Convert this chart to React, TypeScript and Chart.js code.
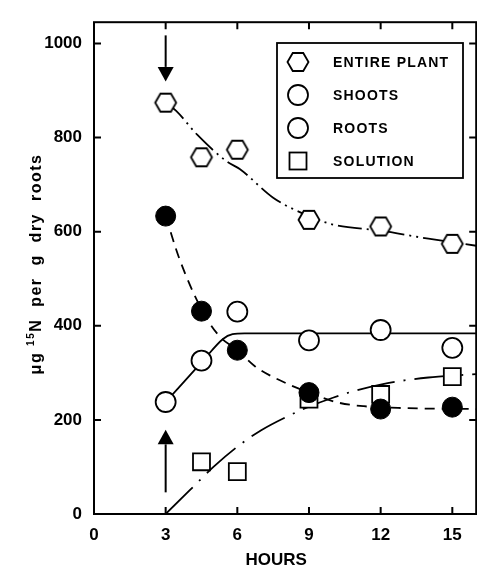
import React, { useEffect, useRef } from "react";
import { Chart, registerables } from "chart.js";

Chart.register(...registerables);

// ---- data ----
const xTickValues = [0, 3, 6, 9, 12, 15];
const yTickValues = [0, 200, 400, 600, 800, 1000];

const hours = [3, 4.5, 6, 9, 12, 15];
const entirePlant = [874, 758, 774, 625, 611, 574];
const shoots = [238, 326, 430, 369, 391, 353];
const roots = [633, 431, 348, 258, 223, 227];
const solutionHours = [4.5, 6, 9, 12, 15];
const solution = [111, 90, 244, 254, 292];

// fitted curves
const entireFitX = [3, 3.43, 4.32, 5.56, 6.1, 7.5, 8.46, 10, 12, 14, 16];
const entireFitY = [874, 857, 806, 749, 733, 672, 645, 615, 602, 585, 570];
const shootsFitX = [3, 4.5, 5.4, 5.8, 6.3, 16];
const shootsFitY = [238, 322, 372, 382, 384, 384];
const rootsFitX = [3, 3.57, 4.5, 5.23, 6, 6.76, 8, 9, 10.2, 11.3, 13, 16];
const rootsFitY = [633, 543, 435, 379, 348, 313, 279, 258, 237, 229, 225, 223];
const solutionFitX = [3, 4, 5, 6, 7, 8, 9, 10, 11, 12, 13, 14, 15, 16];
const solutionFitY = [0, 50, 100, 143, 178, 205, 228, 247, 263, 275, 284, 290, 294, 297];

const legendLabels = ["ENTIRE PLANT", "SHOOTS", "ROOTS", "SOLUTION"];

const FONT = "'Liberation Sans', Arial, Helvetica, sans-serif";

const pts = (xs: number[], ys: number[]) => xs.map((x, i) => ({ x, y: ys[i] }));

function makeHexagon(): HTMLCanvasElement {
  const c = document.createElement("canvas");
  c.width = 26;
  c.height = 22;
  const g = c.getContext("2d")!;
  const cx = 13, cy = 11, hw = 10.5, hh = 9;
  g.beginPath();
  g.moveTo(cx - hw, cy);
  g.lineTo(cx - hw / 2, cy - hh);
  g.lineTo(cx + hw / 2, cy - hh);
  g.lineTo(cx + hw, cy);
  g.lineTo(cx + hw / 2, cy + hh);
  g.lineTo(cx - hw / 2, cy + hh);
  g.closePath();
  g.fillStyle = "#fff";
  g.fill();
  g.lineWidth = 1.8;
  g.strokeStyle = "#000";
  g.stroke();
  return c;
}

export default function App() {
  const ref = useRef<HTMLCanvasElement | null>(null);

  useEffect(() => {
    if (!ref.current) return;
    const hex = makeHexagon();

    const framePlugin = {
      id: "frame",
      afterDraw(chart: any) {
        const { ctx, chartArea: a, scales } = chart;
        const xs = scales.x, ys = scales.y;
        ctx.save();
        ctx.strokeStyle = "#000";
        ctx.lineWidth = 2;
        ctx.strokeRect(a.left, a.top, a.right - a.left, a.bottom - a.top);
        const tl = 7;
        ctx.beginPath();
        xTickValues.forEach((v) => {
          const px = xs.getPixelForValue(v);
          ctx.moveTo(px, a.bottom);
          ctx.lineTo(px, a.bottom - tl);
          ctx.moveTo(px, a.top);
          ctx.lineTo(px, a.top + tl);
        });
        yTickValues.forEach((v) => {
          const py = ys.getPixelForValue(v);
          ctx.moveTo(a.left, py);
          ctx.lineTo(a.left + tl, py);
          ctx.moveTo(a.right, py);
          ctx.lineTo(a.right - tl, py);
        });
        ctx.stroke();

        // arrows at 3 hours
        const ax = xs.getPixelForValue(3);
        const arrow = (from: number, to: number, headBase: number) => {
          const y0 = ys.getPixelForValue(from);
          const yb = ys.getPixelForValue(headBase);
          const yt = ys.getPixelForValue(to);
          ctx.beginPath();
          ctx.lineWidth = 2;
          ctx.moveTo(ax, y0);
          ctx.lineTo(ax, yb);
          ctx.stroke();
          ctx.beginPath();
          ctx.moveTo(ax - 8, yb);
          ctx.lineTo(ax + 8, yb);
          ctx.lineTo(ax, yt);
          ctx.closePath();
          ctx.fillStyle = "#000";
          ctx.fill();
        };
        arrow(1017, 919, 950);
        arrow(46, 179, 148);

        // axis titles
        ctx.fillStyle = "#000";
        ctx.font = `bold 17px ${FONT}`;
        ctx.textAlign = "center";
        ctx.textBaseline = "middle";
        ctx.fillText("HOURS", xs.getPixelForValue(7.5) + 3, 560);

        ctx.save();
        ctx.translate(37, 264);
        ctx.rotate(-Math.PI / 2);
        (ctx as any).letterSpacing = "1.5px";
        const big = `bold 16px ${FONT}`;
        const small = `bold 10px ${FONT}`;
        const p1 = "\u03BCg ";
        const p2 = "15";
        const p3 = "N  per  g  dry  roots";
        ctx.font = big;
        const w1 = ctx.measureText(p1).width;
        const w3 = ctx.measureText(p3).width;
        ctx.font = small;
        const w2 = ctx.measureText(p2).width;
        let x = -(w1 + w2 + w3) / 2;
        ctx.textAlign = "left";
        ctx.font = big;
        ctx.fillText(p1, x, 0);
        x += w1;
        ctx.font = small;
        ctx.fillText(p2, x, -6);
        x += w2;
        ctx.font = big;
        ctx.fillText(p3, x, 0);
        (ctx as any).letterSpacing = "0px";
        ctx.restore();

        // legend box
        const L = 277, T = 43, R = 463, B = 178;
        ctx.fillStyle = "#fff";
        ctx.fillRect(L, T, R - L, B - T);
        ctx.lineWidth = 1.8;
        ctx.strokeStyle = "#000";
        ctx.strokeRect(L, T, R - L, B - T);
        const rows = [62, 95, 128, 161];
        const mx = 298;
        ctx.font = `bold 14px ${FONT}`;
        (ctx as any).letterSpacing = "1.2px";
        ctx.textAlign = "left";
        ctx.textBaseline = "middle";
        legendLabels.forEach((lab, i) => {
          const y = rows[i];
          if (i === 0) {
            ctx.drawImage(hex, mx - hex.width / 2, y - hex.height / 2);
          } else if (i === 3) {
            ctx.fillStyle = "#fff";
            ctx.fillRect(mx - 8.5, y - 8.5, 17, 17);
            ctx.strokeRect(mx - 8.5, y - 8.5, 17, 17);
          } else {
            ctx.beginPath();
            ctx.arc(mx, y, 10, 0, Math.PI * 2);
            ctx.fillStyle = "#fff";
            ctx.fill();
            ctx.stroke();
          }
          ctx.fillStyle = "#000";
          ctx.fillText(lab, 333, y + 1);
        });
        (ctx as any).letterSpacing = "0px";
        ctx.restore();
      },
    };

    const chart = new Chart(ref.current, {
      type: "scatter",
      data: {
        datasets: [
          {
            label: "ENTIRE PLANT",
            data: pts(hours, entirePlant),
            pointStyle: hex as any,
            pointRadius: 10,
            order: 3,
          },
          {
            label: "SHOOTS",
            data: pts(hours, shoots),
            pointStyle: "circle",
            pointRadius: 10,
            pointBackgroundColor: "#fff",
            pointBorderColor: "#000",
            pointBorderWidth: 1.8,
            order: 2,
          },
          {
            label: "ROOTS",
            data: pts(hours, roots),
            pointStyle: "circle",
            pointRadius: 10,
            pointBackgroundColor: "#000",
            pointBorderColor: "#000",
            pointBorderWidth: 1,
            order: 0,
          },
          {
            label: "SOLUTION",
            data: pts(solutionHours, solution),
            pointStyle: "rect",
            pointRadius: 12,
            pointBackgroundColor: "#fff",
            pointBorderColor: "#000",
            pointBorderWidth: 1.8,
            order: 1,
          },
          {
            label: "entire fit",
            data: pts(entireFitX, entireFitY),
            showLine: true,
            pointRadius: 0,
            borderColor: "#000",
            borderWidth: 1.8,
            borderDash: [24, 5, 2, 5, 2, 5],
            cubicInterpolationMode: "monotone",
            order: 10,
          },
          {
            label: "shoots fit",
            data: pts(shootsFitX, shootsFitY),
            showLine: true,
            pointRadius: 0,
            borderColor: "#000",
            borderWidth: 1.8,
            cubicInterpolationMode: "monotone",
            order: 10,
          },
          {
            label: "roots fit",
            data: pts(rootsFitX, rootsFitY),
            showLine: true,
            pointRadius: 0,
            borderColor: "#000",
            borderWidth: 1.8,
            borderDash: [10, 7],
            cubicInterpolationMode: "monotone",
            order: 10,
          },
          {
            label: "solution fit",
            data: pts(solutionFitX, solutionFitY),
            showLine: true,
            pointRadius: 0,
            borderColor: "#000",
            borderWidth: 1.8,
            borderDash: [38, 9, 2, 9],
            cubicInterpolationMode: "monotone",
            order: 10,
          },
        ],
      },
      options: {
        animation: false,
        responsive: false,
        devicePixelRatio: 1,
        layout: { padding: { top: 11, right: 11, left: 0, bottom: 0 } },
        plugins: { legend: { display: false }, tooltip: { enabled: false } },
        scales: {
          x: {
            type: "linear",
            min: 0,
            max: 16,
            grid: { display: false, drawTicks: false },
            border: { display: false },
            afterBuildTicks: (s: any) => {
              s.ticks = xTickValues.map((v) => ({ value: v }));
            },
            afterFit: (s: any) => {
              s.height = 56;
            },
            ticks: {
              padding: 11,
              color: "#000",
              maxRotation: 0,
              callback: (v: any) => String(v),
              font: { family: FONT, size: 17, weight: "bold" },
            },
          },
          y: {
            type: "linear",
            min: 0,
            max: 1045,
            grid: { display: false, drawTicks: false },
            border: { display: false },
            afterBuildTicks: (s: any) => {
              s.ticks = yTickValues.map((v) => ({ value: v }));
            },
            afterFit: (s: any) => {
              s.width = 94;
            },
            ticks: {
              padding: 12,
              color: "#000",
              callback: (v: any) => String(v),
              font: { family: FONT, size: 17, weight: "bold" },
            },
          },
        },
      },
      plugins: [framePlugin],
    } as any);

    return () => chart.destroy();
  }, []);

  return (
    <div
      style={{
        position: "fixed",
        left: 0,
        top: 0,
        width: 477,
        height: 570,
        overflow: "hidden",
        background: "#fff",
      }}
    >
      <canvas ref={ref} width={490} height={570} style={{ width: 490, height: 570, display: "block" }} />
    </div>
  );
}
